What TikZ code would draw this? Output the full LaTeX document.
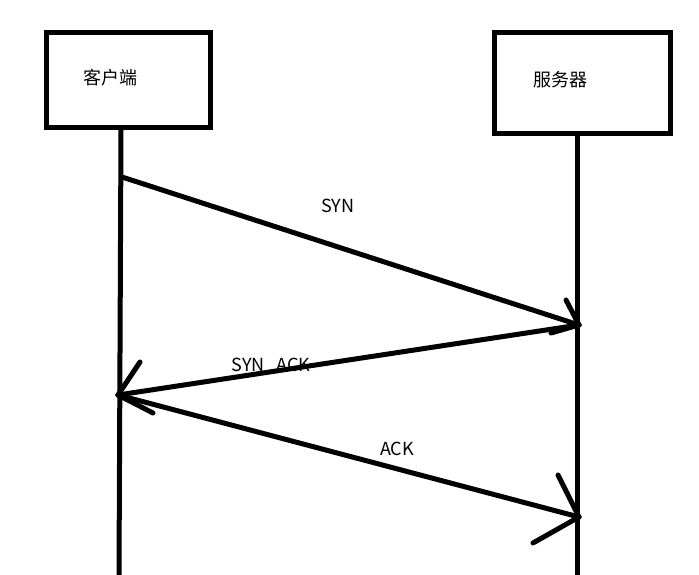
\documentclass[tikz,border=0pt]{standalone}
\usepackage{fontspec}
\setmainfont{Noto Sans CJK SC}
\begin{document}
\begin{tikzpicture}[x=1pt,y=-1pt,
  box/.style={draw=black,line width=5pt,minimum width=164pt,minimum height=95pt,inner sep=0pt},
  life/.style={line width=5pt},
  msg/.style={line width=5pt,line cap=round},
  lbl/.style={font=\fontsize{18}{20}\selectfont,inner sep=0pt},
  cjk/.style={font=\fontsize{18}{20}\selectfont,inner sep=0pt}]
\useasboundingbox[fill=white] (0,0) rectangle (699,575);
% boxes
\node[box] (client) at (128,80) {};
\node[box,minimum width=176pt,minimum height=101pt] (server) at (582,83.5) {};
\node[cjk] (clientlbl) at (110,78) {客户端};
\node[cjk] (serverlbl) at (560,80) {服务器};
% lifelines
\coordinate (cend) at (119,575);
\coordinate (send) at (577,575);
\draw[life] (client.south -| 121,0) -- (cend);
\draw[life] (server.south -| send) -- (send);
% message points
\coordinate (s1) at (122,177);
\coordinate (r1) at (579,325);
\coordinate (c2) at (118,395);
\coordinate (r2) at (579,517);
% SYN
\draw[msg] (s1) -- (r1);
\draw[msg] (r1) -- (566,300);
\draw[msg] (r1) -- (551,333);
% SYN ACK
\draw[msg] (r1) -- (c2);
\draw[msg] (c2) -- (140,362);
\draw[msg] (c2) -- (153,413);
% ACK
\draw[msg] (c2) -- (r2);
\draw[msg] (r2) -- (558,475);
\draw[msg] (r2) -- (533,543);
% labels
\node[lbl] (synlbl) at (338,206) {SYN};
\node[lbl] (synacklbl) at (271,365) {SYN\hspace{12pt}ACK};
\node[lbl] (acklbl) at (397,449) {ACK};
\end{tikzpicture}
\end{document}
